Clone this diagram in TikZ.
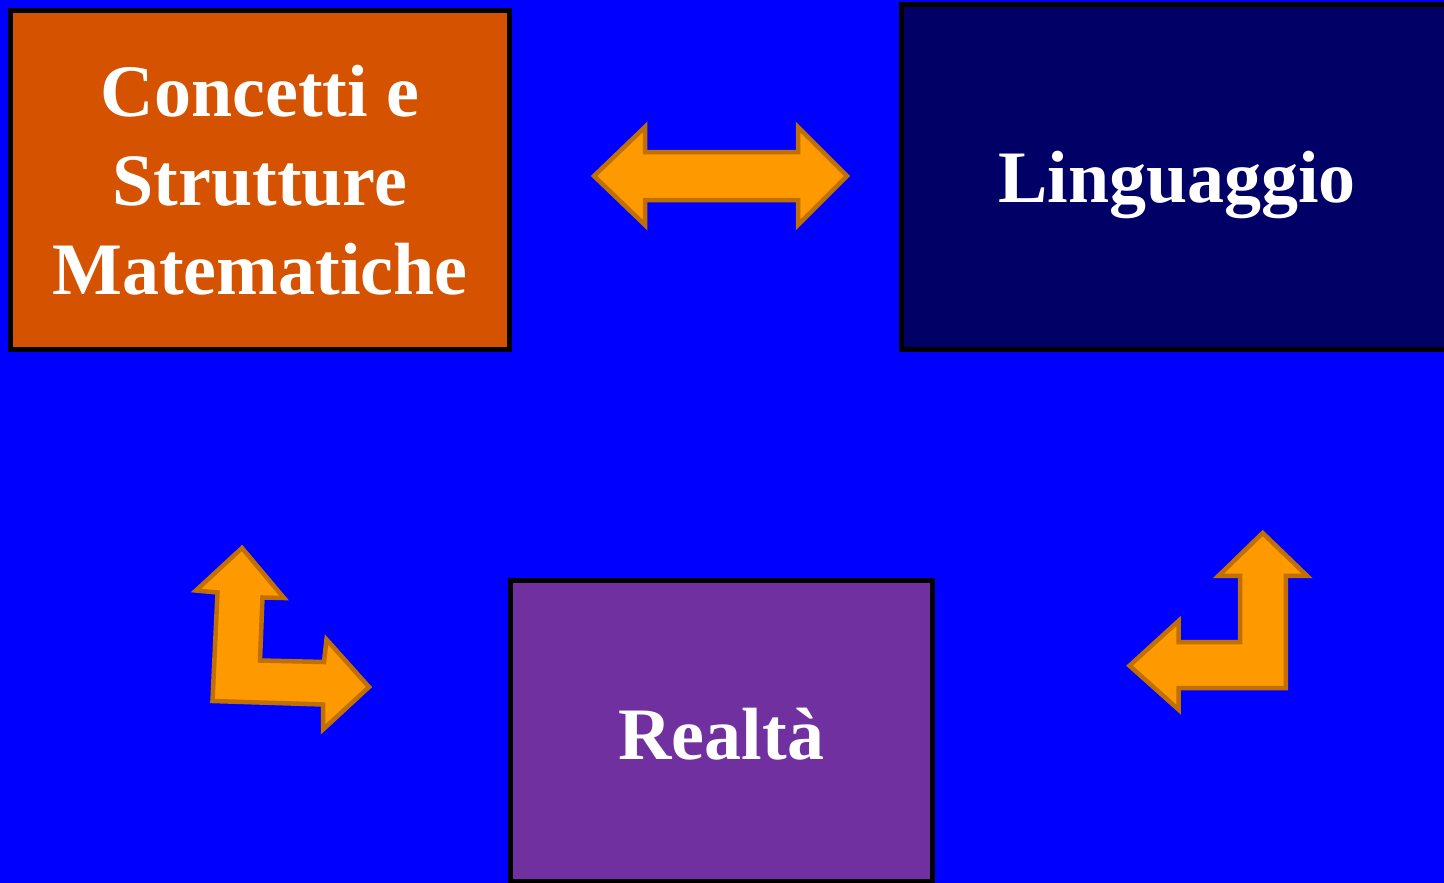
\documentclass[tikz,border=0pt]{standalone}
\usepackage{fontspec}
\setmainfont{Liberation Serif}
\definecolor{bgblue}{RGB}{0,0,255}
\definecolor{boxorange}{RGB}{212,82,0}
\definecolor{boxnavy}{RGB}{0,0,102}
\definecolor{boxpurple}{RGB}{112,48,160}
\definecolor{arrowfill}{RGB}{255,153,0}
\definecolor{arrowline}{RGB}{192,112,0}
\begin{document}
\begin{tikzpicture}[x=1pt,y=-1pt,
  box/.style={draw=black,line width=5pt,rectangle,inner sep=0pt,text=white,
    font=\fontsize{74}{89}\selectfont\bfseries,align=center},
  blockarrow/.style={fill=arrowfill,draw=arrowline,line width=4.5pt,line join=miter}]
\useasboundingbox (0,0) rectangle (1444,883);
\clip (0,0) rectangle (1444,883);
\fill[bgblue] (0,0) rectangle (1444,883);
% boxes
\node[box,fill=boxorange,minimum width=499pt,minimum height=339pt] (concetti) at (260,180)
  {Concetti e\\Strutture\\Matematiche};
\node[box,fill=boxnavy,minimum width=552pt,minimum height=345pt,text height=51pt,text depth=0pt] (linguaggio) at (1177,177) {Linguaggio};
\node[box,fill=boxpurple,minimum width=422.5pt,minimum height=300.5pt,text height=58pt,text depth=0pt] (realta) at (721.25,730.75) {Realtà};
% double arrow between Concetti and Linguaggio
\draw[blockarrow] (594,176) -- (645,127) -- (645,152) -- (798,152) -- (798,127) -- (847,176)
  -- (798,225) -- (798,200) -- (645,200) -- (645,225) -- cycle;
% bent arrow bottom left
\draw[blockarrow] (242,548) -- (284,598) -- (262.5,597.5) -- (260,660.5) -- (324,662)
  -- (326.5,639.5) -- (369,687) -- (323,729.5) -- (323,704.5) -- (212.5,701)
  -- (217.5,592.5) -- (196,590.5) -- cycle;
% bent arrow bottom right
\draw[blockarrow] (1262.7,533) -- (1307,575.8) -- (1285.8,575.8) -- (1285.8,688.2)
  -- (1178.5,688.2) -- (1178.5,709.5) -- (1129.5,665.7) -- (1178.5,621)
  -- (1178.5,642) -- (1240,642) -- (1240,575.8) -- (1218.5,575.8) -- cycle;
\end{tikzpicture}
\end{document}
